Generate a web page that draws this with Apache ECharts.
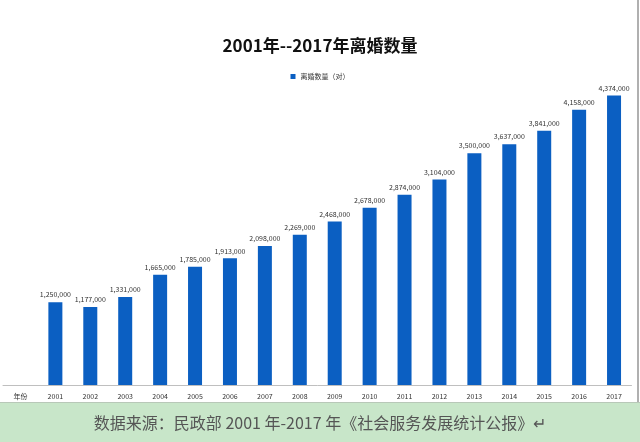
<!DOCTYPE html>
<html>
<head>
<meta charset="utf-8">
<script src="https://cdn.jsdelivr.net/npm/echarts@6/dist/echarts.min.js"></script>
<style>
  html, body { margin: 0; padding: 0; background: #fff; }
  #main { width: 640px; height: 442px; }
</style>
</head>
<body>
<div id="main"></div>
<script>
// 年份（第一个格子放“年份”标题）
const years = ['年份', '2001', '2002', '2003', '2004', '2005', '2006', '2007', '2008', '2009',
  '2010', '2011', '2012', '2013', '2014', '2015', '2016', '2017'];
// 离婚数量（对）
const divorces = ['-', 1250000, 1177000, 1331000, 1665000, 1785000, 1913000, 2098000, 2269000,
  2468000, 2678000, 2874000, 3104000, 3500000, 3637000, 3841000, 4158000, 4374000];

const seriesName = '离婚数量（对）';
const sourceText = '数据来源：民政部 2001 年-2017 年《社会服务发展统计公报》↵';

const formatNumber = n => String(n).replace(/\B(?=(\d{3})+(?!\d))/g, ',');

const chart = echarts.init(document.getElementById('main'));

const option = {
  backgroundColor: '#fff',
  animation: false,
  textStyle: { fontFamily: 'Noto Sans CJK SC' },
  title: {
    text: '2001年--2017年离婚数量',
    left: 'center',
    top: 32,
    textStyle: { fontSize: 17, fontWeight: 'bold', color: '#111', fontFamily: 'Noto Sans CJK SC' }
  },
  legend: {
    data: [seriesName],
    top: 68,
    left: 'center',
    itemWidth: 5,
    itemHeight: 5,
    icon: 'rect',
    textStyle: { fontSize: 7, color: '#333' }
  },
  grid: { left: 3, right: 8.5, top: 54, bottom: 57, containLabel: false },
  xAxis: {
    type: 'category',
    data: years,
    axisLine: { lineStyle: { color: '#bfbfbf', width: 1 } },
    axisTick: { show: false },
    axisLabel: { fontSize: 7, color: '#333', margin: 8 }
  },
  yAxis: {
    type: 'value',
    min: 0,
    max: 5000000,
    show: false,
    splitLine: { show: false }
  },
  series: [{
    name: seriesName,
    type: 'bar',
    data: divorces,
    barWidth: 14,
    itemStyle: { color: '#0b5fc2' },
    label: {
      show: true,
      position: 'top',
      distance: 4,
      fontSize: 7,
      color: '#333',
      formatter: p => formatNumber(p.value)
    }
  }],
  graphic: [
    {
      type: 'rect',
      shape: { x: 0, y: 403, width: 640, height: 39 },
      style: { fill: '#c8e6c9' },
      silent: true
    },
    {
      type: 'line',
      shape: { x1: 638, y1: 0, x2: 638, y2: 403 },
      style: { stroke: '#b0b0b0', lineWidth: 2 },
      silent: true
    },
    {
      type: 'line',
      shape: { x1: 0, y1: 402.5, x2: 640, y2: 402.5 },
      style: { stroke: '#b8c8b8', lineWidth: 1 },
      silent: true
    },
    {
      type: 'text',
      x: 320,
      y: 423,
      style: {
        text: sourceText,
        fill: '#555',
        fontSize: 16,
        fontFamily: 'Noto Sans CJK SC',
        align: 'center',
        verticalAlign: 'middle'
      },
      silent: true
    }
  ]
};

chart.setOption(option);
</script>
</body>
</html>
